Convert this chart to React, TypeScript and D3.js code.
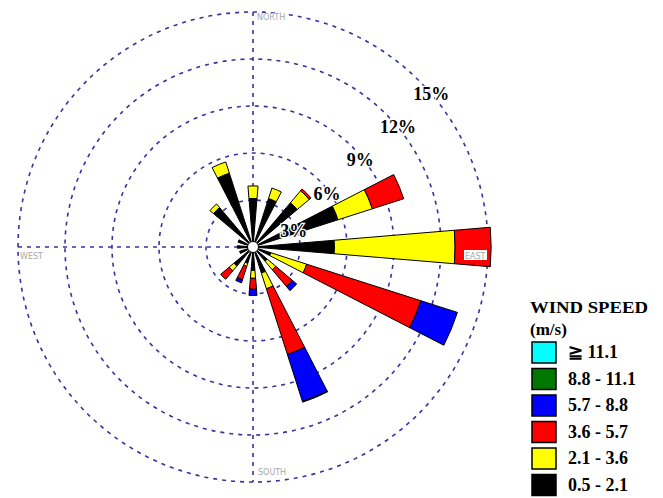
import React from 'react';
import * as d3 from 'd3';

// compass sectors, clockwise from north
const directions = ['N', 'NNE', 'NE', 'ENE', 'E', 'ESE', 'SE', 'SSE', 'S', 'SSW', 'SW', 'WSW', 'W', 'WNW', 'NW', 'NNW'];

// frequency (%) per speed class and direction
const speed05to21 = [3.1, 3.25, 3.7, 5.7, 5.2, 1.2, 1.2, 1.75, 1.5, 1.1, 1.6, 0.9, 1.0, 1.0, 3.3, 4.95];
const speed21to36 = [0.8, 0.7, 1.0, 2.3, 7.7, 2.4, 0.7, 1.05, 0.5, 0.2, 0.4, 0, 0, 0, 0.3, 0.75];
const speed36to57 = [0, 0, 0.15, 2.1, 2.3, 7.65, 1.4, 4.4, 0.7, 0.9, 0.7, 0, 0, 0, 0, 0];
const speed57to88 = [0, 0, 0, 0, 0, 2.45, 0.35, 3.15, 0.4, 0.2, 0, 0, 0, 0, 0, 0];
const speed88to111 = [0, 0, 0, 0, 0, 0, 0, 0.05, 0, 0, 0, 0, 0, 0, 0, 0];
const speedOver111 = [0, 0, 0, 0, 0, 0, 0, 0, 0, 0, 0, 0, 0, 0, 0, 0];

const ringTicks = [3, 6, 9, 12, 15];

// legend, top row first
const legendLabels = ['\u2267 11.1', '8.8 - 11.1', '5.7 - 8.8', '3.6 - 5.7', '2.1 - 3.6', '0.5 - 2.1'];
const legendColors = ['#00ffff', '#007800', '#0000ff', '#ff0000', '#ffff00', '#000000'];

const keys = ['s1', 's2', 's3', 's4', 's5', 's6'];
const keyColors = ['#000000', '#ffff00', '#ff0000', '#0000ff', '#007800', '#00ffff'];

const W = 663;
const H = 498;
const cx = 253;
const cy = 247;
const R = 235;
const gridColor = '#34349c';
const serif = '"Liberation Serif", "DejaVu Serif", "Times New Roman", serif';

export default function App() {
  const r = d3.scaleLinear().domain([0, 15]).range([0, R]);
  const angle = d3
    .scalePoint<string>()
    .domain(directions)
    .range([0, (2 * Math.PI * 15) / 16]);
  const halfWidth = (4.75 * Math.PI) / 180;

  const rows = directions.map((d, i) => ({
    dir: d,
    s1: speed05to21[i],
    s2: speed21to36[i],
    s3: speed36to57[i],
    s4: speed57to88[i],
    s5: speed88to111[i],
    s6: speedOver111[i]
  }));
  const series = d3.stack<any>().keys(keys)(rows);

  const arc = d3.arc<any>();

  const labelDir = Math.PI / 4;

  return (
    <svg width={W} height={H} style={{ position: 'absolute', left: 0, top: 0, background: 'white' }}>
      <g transform={`translate(${cx},${cy})`}>
        {ringTicks.map(t => (
          <circle
            key={t}
            r={r(t)}
            fill="none"
            stroke={gridColor}
            strokeWidth={1.6}
            strokeDasharray="4 5"
          />
        ))}
        <line x1={0} x2={0} y1={-R} y2={R} stroke={gridColor} strokeWidth={1.6} strokeDasharray="4 5" />
        <line x1={-R} x2={R} y1={0} y2={0} stroke={gridColor} strokeWidth={1.6} strokeDasharray="4 5" />

        {series.map((s, k) =>
          s.map((seg, i) => {
            if (seg[1] - seg[0] <= 0) return null;
            const a = angle(directions[i]) as number;
            return (
              <path
                key={k + '-' + i}
                d={arc({
                  innerRadius: r(seg[0]),
                  outerRadius: r(seg[1]),
                  startAngle: a - halfWidth,
                  endAngle: a + halfWidth
                }) as string}
                fill={keyColors[k]}
                stroke="black"
                strokeWidth={1}
                strokeLinejoin="miter"
              />
            );
          })
        )}
        <circle r={5} fill="white" />

        {/* percent labels on the rings */}
        {ringTicks.map(t => (
          <text
            key={t}
            x={r(t) * Math.cos(labelDir) - 6}
            y={-r(t) * Math.sin(labelDir) + 19 + (t === 3 ? 4 : 0)}
            style={{ fontFamily: serif, fontWeight: 'bold', fontSize: 18 }}
            fill="black"
            stroke="white"
            strokeWidth={2.5}
            paintOrder="stroke"
          >
            {t}%
          </text>
        ))}

        {/* compass names */}
        <g style={{ fontFamily: 'DejaVu Sans', fontSize: 8 }} fill="#a8a8a8">
          <rect x={3} y={-R + 1} width={30} height={9} fill="white" />
          <text x={4} y={-R + 8}>NORTH</text>
          <rect x={4} y={R - 14} width={30} height={9} fill="white" />
          <text x={5} y={R - 7}>SOUTH</text>
          <rect x={-R + 1} y={4} width={24} height={9} fill="white" />
          <text x={-R + 2} y={12}>WEST</text>
          <rect x={R - 24} y={3} width={23} height={10} fill="white" />
          <text x={R - 23} y={12}>EAST</text>
        </g>
      </g>

      {/* legend */}
      <g style={{ fontFamily: serif, fontWeight: 'bold' }} fill="black">
        <text x={530} y={313} fontSize={17} textLength={118} lengthAdjust="spacingAndGlyphs">WIND SPEED</text>
        <text x={530} y={335} fontSize={17}>(m/s)</text>
        {legendLabels.map((l, i) => (
          <g key={l} transform={`translate(0,${342 + i * 26.5})`}>
            <rect x={532} y={0} width={24} height={21} fill={legendColors[i]} stroke="black" strokeWidth={1.5} />
            <text x={568} y={16} fontSize={18}>{l}</text>
          </g>
        ))}
      </g>
    </svg>
  );
}
